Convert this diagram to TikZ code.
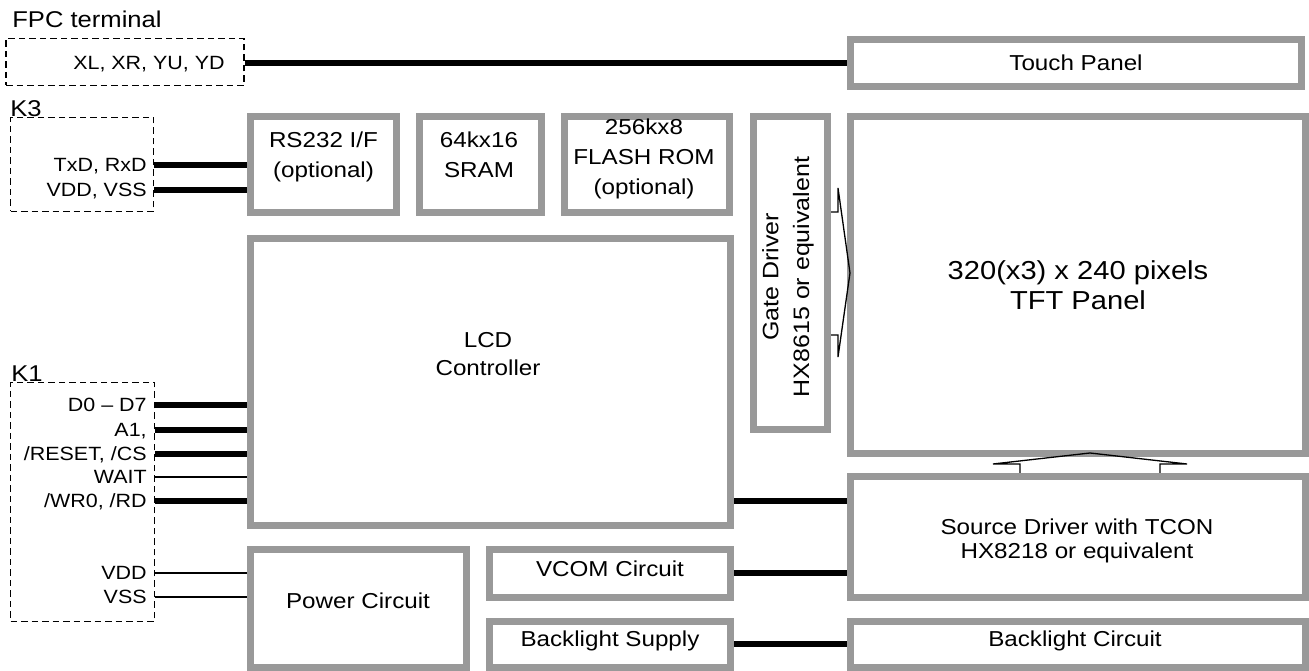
\documentclass[tikz,border=0pt]{standalone}
\usepackage{fontspec}
\setmainfont{Liberation Sans}[FakeStretch=1.12]
\newlength{\pxu}
\setlength{\pxu}{0.02cm}
\definecolor{boxgray}{HTML}{999999}
\tikzset{
  blk/.style={draw=boxgray, line width=7\pxu, align=center,
    font=\fontsize{12.3}{17}\selectfont},
  txt/.style={align=center, font=\fontsize{12.3}{17}\selectfont},
  term/.style={draw, line width=1.5\pxu, dash pattern=on 6.5\pxu off 4\pxu},
  pinlbl/.style={anchor=east, inner sep=0pt, text height=7.8pt, text depth=0pt,
    font=\fontsize{10.9}{12}\selectfont},
  ttl/.style={anchor=base west, inner sep=0pt, font=\fontsize{13}{14}\selectfont},
  bus/.style={line width=6\pxu},
  sig/.style={line width=1.5\pxu},
  fan/.style={line width=1.3\pxu}
}
\begin{document}
\begin{tikzpicture}[x=0.02cm, y=-0.02cm]
\useasboundingbox (0,0) rectangle (1309,671);
% terminals
\node[term, minimum width=238\pxu, minimum height=47\pxu] (fpc) at (125,62) {};
\node[ttl] (fpcttl) at (12,28) {FPC terminal};
\node[pinlbl] (xy) at (225,63) {XL, XR, YU, YD};
\node[term, minimum width=143\pxu, minimum height=94\pxu] (k3) at (82,164.5) {};
\node[ttl] (k3ttl) at (10,117) {K3};
\node[pinlbl] (txd) at (147,165) {TxD, RxD};
\node[pinlbl] (vdd3) at (147,190) {VDD, VSS};
\node[term, minimum width=144\pxu, minimum height=239\pxu] (k1) at (82.5,502) {};
\node[ttl] (k1ttl) at (11,382) {K1};
\node[pinlbl] (dat) at (147,405) {D0 – D7};
\node[pinlbl] (adr) at (147,430) {A1,};
\node[pinlbl] (rst) at (147,454) {/RESET, /CS};
\node[pinlbl] (wait) at (147,477) {WAIT};
\node[pinlbl] (wr) at (147,501) {/WR0, /RD};
\node[pinlbl] (vdd1) at (147,573) {VDD};
\node[pinlbl] (vss1) at (147,597) {VSS};
% blocks
\node[blk, minimum width=451\pxu, minimum height=47\pxu] (touch) at (1076,63) {Touch Panel};
\node[blk, minimum width=146\pxu, minimum height=96\pxu] (rs232) at (323.5,164.5) {};
\node[txt] (rs232lbl) at (323.5,157) {RS232 I/F\\(optional)};
\node[blk, minimum width=122\pxu, minimum height=96\pxu] (sram) at (480.5,164.5) {};
\node[txt] (sramlbl) at (479,155) {64kx16\\SRAM};
\node[blk, minimum width=165\pxu, minimum height=96\pxu] (flash) at (647,164.5) {};
\node[txt] (flashlbl) at (644,159) {256kx8\\FLASH ROM\\(optional)};
\node[blk, minimum width=74\pxu, minimum height=313\pxu] (gate) at (790.5,273) {};
\node[txt, rotate=90, font=\fontsize{12.7}{17.6}\selectfont] (gatelbl) at (788,277) {Gate Driver\\HX8615 or equivalent};
\node[blk, minimum width=455\pxu, minimum height=337\pxu, font=\fontsize{14.8}{17}\selectfont] (tft) at (1078,285) {320(x3) x 240 pixels\\TFT Panel};
\node[blk, minimum width=480\pxu, minimum height=287\pxu] (lcd) at (490.5,382) {};
\node[txt, font=\fontsize{12.3}{16}\selectfont] (lcdlbl) at (488,354) {LCD\\Controller};
\node[blk, minimum width=455\pxu, minimum height=121\pxu] (src) at (1078,537) {};
\node[txt, font=\fontsize{12.3}{14}\selectfont] (srclbl) at (1077,541) {Source Driver with TCON\\HX8218 or equivalent};
\node[blk, minimum width=216\pxu, minimum height=118\pxu] (power) at (358.5,608.5) {};
\node[txt] (powerlbl) at (358,600.5) {Power Circuit};
\node[blk, minimum width=241\pxu, minimum height=48\pxu] (vcom) at (610,573.5) {};
\node[txt] (vcomlbl) at (610,568.5) {VCOM Circuit};
\node[blk, minimum width=241\pxu, minimum height=46\pxu] (blsup) at (610,644.5) {};
\node[txt] (blsuplbl) at (610,641) {Backlight Supply};
\node[blk, minimum width=455\pxu, minimum height=46\pxu] (blcirc) at (1078,644.5) {};
\node[txt] (blcirclbl) at (1075,641) {Backlight Circuit};
% wiring
\draw[bus] (xy.east -| fpc.east) -- (xy.east -| touch.west);
\draw[bus] (txd.east -| k3.east) -- (txd.east -| rs232.west);
\draw[bus] (vdd3.east -| k3.east) -- (vdd3.east -| rs232.west);
\foreach \p in {dat,adr,rst,wr}
  \draw[bus] (\p.east -| k1.east) -- (\p.east -| lcd.west);
\draw[sig] (wait.east -| k1.east) -- (wait.east -| lcd.west);
\foreach \p in {vdd1,vss1}
  \draw[sig] (\p.east -| k1.east) -- (\p.east -| power.west);
\draw[bus] (lcd.east |- wr.east) -- (src.west |- wr.east);
\draw[bus] (vcom.east) -- (vcom.east -| src.west);
\draw[bus] (blsup.east) -- (blcirc.west);
% driver fans into the panel
\draw[fan] ([yshift=61\pxu]gate.east) -- ++(7,0) -- ++(0,-24) -- ++(12,85) -- ++(-12,84) -- ++(0,-22) -- ++(-7,0);
\draw[fan] ([xshift=-58\pxu]src.north) -- ++(0,-9) -- ++(-27,0) -- ++(97,-11) -- ++(97,11) -- ++(-27,0) -- ++(0,9);
\end{tikzpicture}
\end{document}
